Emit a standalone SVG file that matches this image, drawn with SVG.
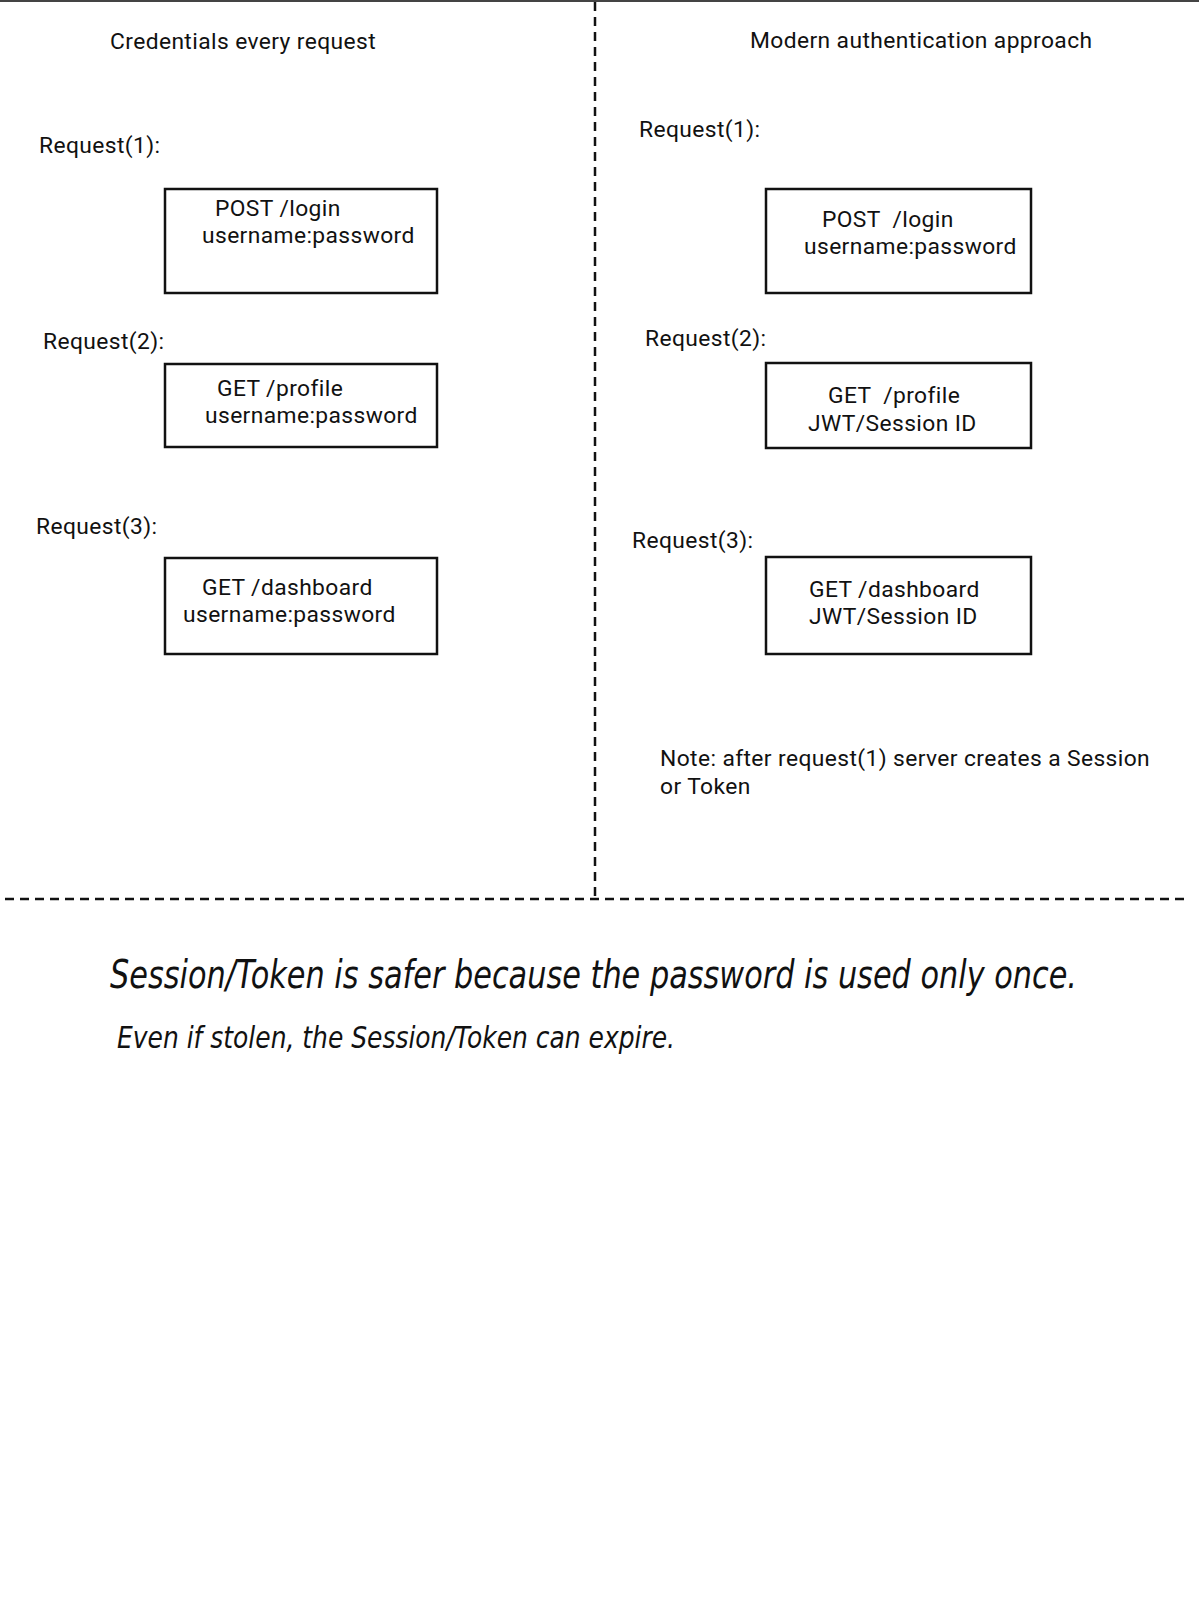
<svg xmlns="http://www.w3.org/2000/svg" width="1199" height="1600" viewBox="0 0 1199 1600">
<style>
.t{font-family:Roboto,"Noto Sans","Liberation Sans",sans-serif;font-size:22.8px;letter-spacing:0.4px;fill:#111}
.box{fill:#fff;stroke:#111;stroke-width:2.5}
.dash{stroke:#111;stroke-width:2.5;stroke-dasharray:9 6;fill:none}
.hand{font-family:"DejaVu Sans","Liberation Sans",sans-serif;font-style:italic;font-weight:200;fill:#111}
</style>
<rect width="1199" height="1600" fill="#fff"/>
<g id="connectors">
<line x1="0" y1="1" x2="1199" y2="1" stroke="#444" stroke-width="2"/>
<line class="dash" x1="595" y1="2" x2="595" y2="898"/>
<line class="dash" x1="5" y1="899" x2="1188" y2="899"/>
</g>
<g id="titles">
<text class="t" x="110" y="49">Credentials every request</text>
<text class="t" x="750" y="48">Modern authentication approach</text>
</g>
<g id="left-labels">
<text class="t" x="39" y="153">Request(1):</text>
<text class="t" x="43" y="349">Request(2):</text>
<text class="t" x="36" y="534">Request(3):</text>
</g>
<g id="left-req1">
<rect class="box" x="165" y="189" width="272" height="104"/>
<text class="t"><tspan x="215" y="216">POST /login</tspan><tspan x="202" y="243">username:password</tspan></text>
</g>
<g id="left-req2">
<rect class="box" x="165" y="364" width="272" height="83"/>
<text class="t"><tspan x="217" y="396">GET /profile</tspan><tspan x="205" y="423">username:password</tspan></text>
</g>
<g id="left-req3">
<rect class="box" x="165" y="558" width="272" height="96"/>
<text class="t"><tspan x="202" y="595">GET /dashboard</tspan><tspan x="183" y="622">username:password</tspan></text>
</g>
<g id="right-labels">
<text class="t" x="639" y="137">Request(1):</text>
<text class="t" x="645" y="346">Request(2):</text>
<text class="t" x="632" y="548">Request(3):</text>
</g>
<g id="right-req1">
<rect class="box" x="766" y="189" width="265" height="104"/>
<text class="t" xml:space="preserve"><tspan x="822" y="227">POST  /login</tspan><tspan x="804" y="254">username:password</tspan></text>
</g>
<g id="right-req2">
<rect class="box" x="766" y="363" width="265" height="85"/>
<text class="t" xml:space="preserve"><tspan x="828" y="403">GET  /profile</tspan><tspan x="808" y="431">JWT/Session ID</tspan></text>
</g>
<g id="right-req3">
<rect class="box" x="766" y="557" width="265" height="97"/>
<text class="t"><tspan x="809" y="597">GET /dashboard</tspan><tspan x="809" y="624">JWT/Session ID</tspan></text>
</g>
<g id="note">
<text class="t"><tspan x="660" y="766">Note: after request(1) server creates a Session</tspan><tspan x="660" y="794">or Token</tspan></text>
</g>
<g id="handwritten">
<text class="hand" transform="translate(110,988) scale(1,1.18)" x="0" y="0" font-size="33" textLength="967" lengthAdjust="spacingAndGlyphs">Session/Token is safer because the password is used only once.</text>
<text class="hand" transform="translate(117,1048) scale(1,1.18)" x="0" y="0" font-size="25" textLength="558" lengthAdjust="spacingAndGlyphs">Even if stolen, the Session/Token can expire.</text>
</g>
</svg>
